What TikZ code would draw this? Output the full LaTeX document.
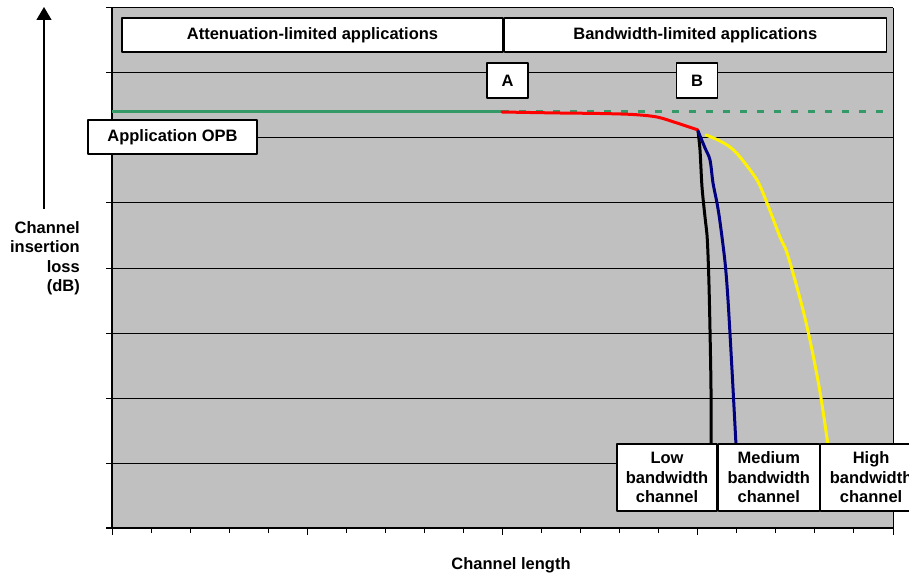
\documentclass[tikz,border=0pt]{standalone}
\usepackage{fontspec}
\setmainfont{Liberation Sans}
\usepackage{tikz}
\usetikzlibrary{arrows.meta,positioning}
\definecolor{plotgray}{RGB}{192,192,192}
\definecolor{seagreen}{RGB}{51,153,102}
\definecolor{navyblue}{RGB}{0,0,128}

\begin{document}
\begin{tikzpicture}[x=1pt,y=-1pt,font=\fontsize{16.5}{19.5}\selectfont\bfseries,
        line join=round]
        \tikzstyle{label box}=[draw,fill=white,line width=1.3pt,inner sep=0pt,
            align=center]
        \tikzstyle{grid}=[line width=1pt]
        \tikzstyle{curve}=[line width=3pt,line cap=round]

        \useasboundingbox (0,0) rectangle (909,577);
        \fill[plotgray] (112,8) rectangle (893,528);
        \foreach \y in {8,73,...,463}
            \draw[grid] (106,\y) -- (893,\y);
        \draw[grid] (893,8) -- (893,528);
        \draw[line width=1.7pt] (106,528) -- (893,528) (112,8) -- (112,528);
        \foreach \i in {0,...,20}
            \draw[grid] (112+39.05*\i,528) -- ++(0,5);
        \foreach \i in {0,5,...,20}
            \draw[grid] (112+39.05*\i,528) -- ++(0,7);

        \draw[seagreen,line width=3pt] (112,112) -- (502,112);
        \draw[seagreen,line width=3pt,dash pattern=on 7pt off 10pt] (502,112) -- (893,112);
        \draw[curve,red] plot[smooth] coordinates {(502,112) (530,112.5) (560,113)
            (600,113.5) (633,114.5) (657,117) (677,123) (698,130)};
        \draw[curve,black] plot[smooth] coordinates {(698,131) (700,150) (702,187)
            (705,217) (707,235) (708,255) (709,285) (710,330) (711,390) (711,445)};
        \draw[curve,navyblue] plot[smooth] coordinates {(698,131) (705,148) (710,160)
            (713,183) (717,203) (720,222) (725,262) (728,300) (732,370) (736,445)};
        \draw[curve,yellow] plot[smooth] coordinates {(706,135) (718,140) (730,147)
            (740,157) (757,180) (767,203) (780,237) (786,250) (793,273) (803,310)
            (811,345) (820,392) (828,445)};

        \node[label box,minimum width=381pt,minimum height=34pt] (attlim) at (312.5,35)
            {Attenuation-limited applications};
        \node[label box,minimum width=382pt,minimum height=34pt,right=0pt of attlim] (bwlim)
            {Bandwidth-limited applications};
        \node[label box,minimum width=41pt,minimum height=35pt] (A) at (507.5,80.5) {A};
        \node[label box,minimum width=41pt,minimum height=35pt] (B) at (697,80.5) {B};
        \node[label box,minimum width=169pt,minimum height=34pt] (opb) at (172.5,137)
            {Application OPB};
        \node[label box,minimum width=100pt,minimum height=67pt] (low) at (667,477.5)
            {Low\\bandwidth\\channel};
        \node[label box,minimum width=101pt,minimum height=67pt,right=0pt of low] (med)
            {Medium\\bandwidth\\channel};
        \node[label box,minimum width=101pt,minimum height=67pt,right=0pt of med] (high)
            {High\\bandwidth\\channel};

        \node[align=right,anchor=east,inner sep=0pt] (ylabel) at (80,258)
            {Channel\\insertion\\loss\\(dB)};
        \node[inner sep=0pt] (xlabel) at (511,565) {Channel length};
        \coordinate (ybase) at (44,209);
        \coordinate (ytip) at (44,7);
        \draw[-{Triangle[width=15pt,length=13pt]},line width=1.4pt] (ybase) -- (ytip);
    \end{tikzpicture}
\end{document}
